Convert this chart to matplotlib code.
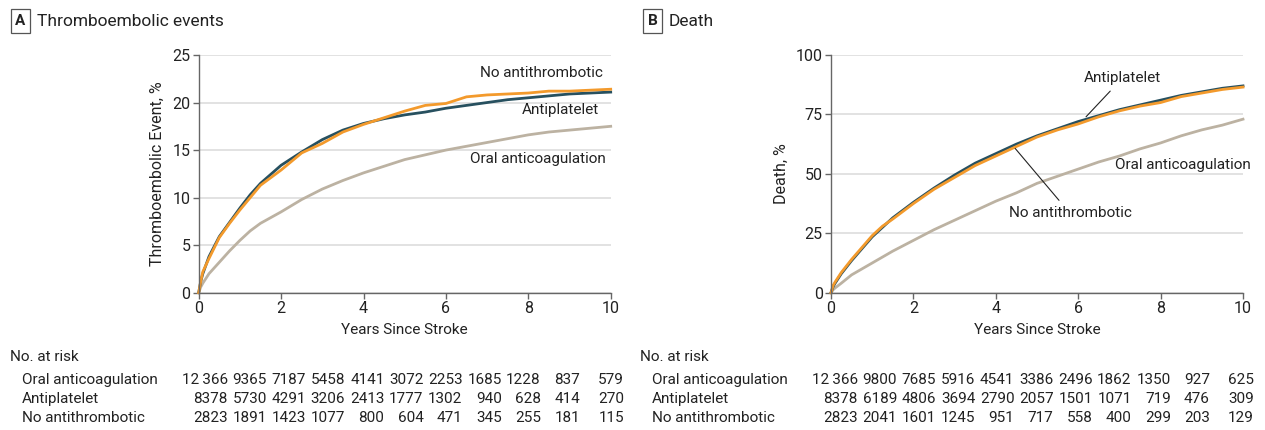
"""Cumulative incidence of thromboembolic events and death after stroke, by treatment."""

from __future__ import annotations

import matplotlib.pyplot as plt

plt.rcParams["font.family"] = ["Roboto", "DejaVu Sans"]

YEARS = [0, 0.05, 0.1, 0.25, 0.5, 0.75, 1, 1.25, 1.5, 2, 2.5, 3, 3.5, 4, 4.5,
         5, 5.5, 6, 6.5, 7, 7.5, 8, 8.5, 9, 9.5, 10]

# Panel A: thromboembolic events, %
te_antiplatelet = [0, 1.2, 2.0, 3.8, 5.9, 7.4, 8.9, 10.3, 11.5, 13.4, 14.8, 16.1, 17.1, 17.8, 18.3,
                   18.7, 19.0, 19.4, 19.7, 20.0, 20.3, 20.5, 20.7, 20.9, 21.0, 21.1]
te_none = [0, 1.2, 2.2, 3.6, 5.8, 7.3, 8.7, 10.0, 11.3, 12.9, 14.7, 15.7, 16.9, 17.7, 18.4,
           19.1, 19.7, 19.9, 20.6, 20.8, 20.9, 21.0, 21.2, 21.2, 21.3, 21.4]
te_oac = [0, 0.6, 1.0, 2.0, 3.2, 4.4, 5.5, 6.5, 7.3, 8.5, 9.8, 10.9, 11.8, 12.6, 13.3,
          14.0, 14.5, 15.0, 15.4, 15.8, 16.2, 16.6, 16.9, 17.1, 17.3, 17.5]

# Panel B: death, %
death_antiplatelet = [0, 2.5, 4, 8, 13.5, 18.5, 23.5, 27.5, 31.5, 38, 44, 49.5, 54.5, 58.5, 62.5,
                      66, 69, 72, 74.5, 77, 79, 81, 83, 84.5, 86, 87]
death_none = [0, 3, 4.5, 8.5, 14, 19, 24, 28, 31, 37.5, 43.5, 48.5, 53.5, 57.5, 61.5,
              65.5, 68.5, 71, 74, 76.5, 78.5, 80, 82.5, 84, 85.5, 86.5]
death_oac = [0, 1.2, 2, 4, 7.5, 10, 12.5, 15, 17.5, 22, 26.5, 30.5, 34.5, 38.5, 42,
             46, 49, 52, 55, 57.5, 60.5, 63, 66, 68.5, 70.5, 73]

ROW_NAMES = ["Oral anticoagulation", "Antiplatelet", "No antithrombotic"]

risk_te_oac = ["12\u2009366", "9365", "7187", "5458", "4141", "3072", "2253", "1685", "1228", "837", "579"]
risk_te_antiplatelet = ["8378", "5730", "4291", "3206", "2413", "1777", "1302", "940", "628", "414", "270"]
risk_te_none = ["2823", "1891", "1423", "1077", "800", "604", "471", "345", "255", "181", "115"]

risk_death_oac = ["12\u2009366", "9800", "7685", "5916", "4541", "3386", "2496", "1862", "1350", "927", "625"]
risk_death_antiplatelet = ["8378", "6189", "4806", "3694", "2790", "2057", "1501", "1071", "719", "476", "309"]
risk_death_none = ["2823", "2041", "1601", "1245", "951", "717", "558", "400", "299", "203", "129"]

C_OAC = "#bcb2a2"
C_ANTIPLATELET = "#27505f"
C_NONE = "#f39a2c"
TEXT = "#222222"

W, H = 1265, 430


def _fx(px):
    return px / W


def _fy(py):
    return 1 - py / H


def _style_axes(ax, ymax, ystep, ylabel):
    ax.set_xlim(0, 10)
    ax.set_ylim(0, ymax)
    ax.set_xticks(range(0, 11, 2))
    ax.set_yticks(range(0, ymax + 1, ystep))
    for side in ("top", "right"):
        ax.spines[side].set_visible(False)
    for side in ("left", "bottom"):
        ax.spines[side].set_color("#666666")
        ax.spines[side].set_linewidth(1.0)
    ax.tick_params(colors="#666666", labelcolor=TEXT, labelsize=11.5, length=4, width=1, pad=2)
    ax.yaxis.grid(True, color="#dddddd", linewidth=1.2)
    ax.set_axisbelow(True)
    ax.set_xlabel("Years Since Stroke", fontsize=11, color=TEXT, labelpad=5)
    ax.set_ylabel(ylabel, fontsize=11.5, color=TEXT, labelpad=5)


def _curves(ax, oac, antiplatelet, none):
    ax.plot(YEARS, oac, color=C_OAC, lw=2.0, clip_on=False)
    ax.plot(YEARS, antiplatelet, color=C_ANTIPLATELET, lw=2.0, clip_on=False)
    ax.plot(YEARS, none, color=C_NONE, lw=2.0, clip_on=False)


def _panel_title(fig, letter, title, x0):
    fig.text(_fx(x0 + 8.5), _fy(21), letter, ha="center", va="center", fontsize=11,
             fontweight="bold", color=TEXT,
             bbox=dict(boxstyle="square,pad=0.3", fc="white", ec="#555555", lw=0.9))
    fig.text(_fx(x0 + 25), _fy(21), title, ha="left", va="center", fontsize=12.5, color=TEXT)


def _risk_table(fig, x0, rows):
    fig.text(_fx(x0 - 2), _fy(357), "No. at risk", ha="left", va="center", fontsize=11, color=TEXT)
    col_right = [x0 + 216 + i * 39.1 for i in range(10)] + [x0 + 612]
    for r, (name, values) in enumerate(zip(ROW_NAMES, rows)):
        y = _fy(380 + r * 19)
        fig.text(_fx(x0 + 10), y, name, ha="left", va="center", fontsize=11, color=TEXT)
        for xr, v in zip(col_right, values):
            fig.text(_fx(xr), y, v, ha="right", va="center", fontsize=11, color=TEXT)


fig = plt.figure(figsize=(W / 100, H / 100), dpi=100)
ax_a = fig.add_axes([_fx(198.7), _fy(292.7), _fx(412), 292.7 / H - 55 / H])
ax_b = fig.add_axes([_fx(831), _fy(292.7), _fx(412), 292.7 / H - 55 / H])

# A: thromboembolic events
_style_axes(ax_a, 25, 5, "Thromboembolic Event, %")
_curves(ax_a, te_oac, te_antiplatelet, te_none)
ax_a.text(8.33, 23.1, "No antithrombotic", ha="center", va="center", fontsize=11, color=TEXT)
ax_a.text(8.79, 19.2, "Antiplatelet", ha="center", va="center", fontsize=11, color=TEXT)
ax_a.text(8.24, 14.1, "Oral anticoagulation", ha="center", va="center", fontsize=11, color=TEXT)

# B: death
_style_axes(ax_b, 100, 25, "Death, %")
_curves(ax_b, death_oac, death_antiplatelet, death_none)
leader = dict(arrowstyle="-", color="#222222", lw=0.8, shrinkA=3, shrinkB=0)
ax_b.annotate("Antiplatelet", xy=(6.19, 74), xytext=(7.07, 90.2), ha="center", va="center",
              fontsize=11, color=TEXT, arrowprops=leader)
ax_b.annotate("No antithrombotic", xy=(4.47, 60.7), xytext=(5.8, 33.4), ha="center", va="center",
              fontsize=11, color=TEXT, arrowprops=leader)
ax_b.text(8.55, 53.7, "Oral anticoagulation", ha="center", va="center", fontsize=11, color=TEXT)

_panel_title(fig, "A", "Thromboembolic events", 12)
_panel_title(fig, "B", "Death", 644)

_risk_table(fig, 12, [risk_te_oac, risk_te_antiplatelet, risk_te_none])
_risk_table(fig, 642, [risk_death_oac, risk_death_antiplatelet, risk_death_none])

fig.savefig("out.png", dpi=100)
